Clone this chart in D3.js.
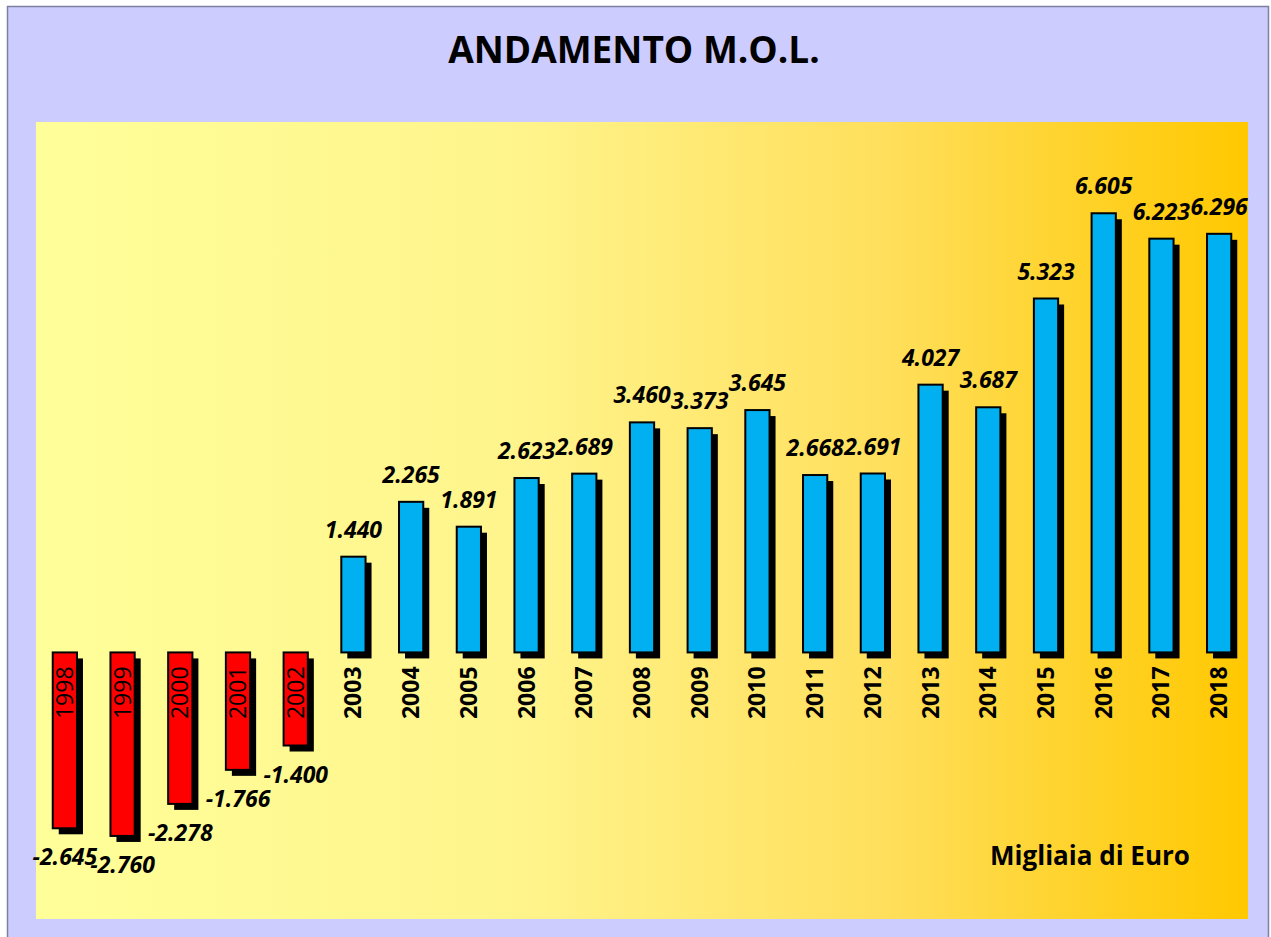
<!DOCTYPE html>
<html>
<head>
<meta charset="utf-8">
<script src="https://cdn.jsdelivr.net/npm/d3@7"></script>
<style>
  body { margin: 0; background: #fff; }
  text { font-family: "Open Sans", "Noto Sans", sans-serif; }
</style>
</head>
<body>
<div id="chart"></div>
<script>
const years = ['1998','1999','2000','2001','2002','2003','2004','2005','2006','2007','2008',
               '2009','2010','2011','2012','2013','2014','2015','2016','2017','2018'];
const values = [-2.645,-2.760,-2.278,-1.766,-1.400,1.440,2.265,1.891,2.623,2.689,3.460,
                3.373,3.645,2.668,2.691,4.027,3.687,5.323,6.605,6.223,6.296];
const labels = ['-2.645','-2.760','-2.278','-1.766','-1.400','1.440','2.265','1.891','2.623','2.689','3.460',
                '3.373','3.645','2.668','2.691','4.027','3.687','5.323','6.605','6.223','6.296'];

const W = 1271, H = 937;
const plot = { left: 36, top: 122, right: 1248, bottom: 919 };

const svg = d3.select('#chart').append('svg')
    .attr('width', W)
    .attr('height', H);

const grad = svg.append('defs').append('linearGradient')
    .attr('id', 'bg').attr('x1', 0).attr('x2', 1).attr('y1', 0).attr('y2', 0);
grad.append('stop').attr('offset', '0%').attr('stop-color', '#ffff99');
grad.append('stop').attr('offset', '40%').attr('stop-color', '#fff48c');
grad.append('stop').attr('offset', '70%').attr('stop-color', '#ffdf5c');
grad.append('stop').attr('offset', '100%').attr('stop-color', '#ffc800');

// outer panel
svg.append('rect')
    .attr('x', 7.5).attr('y', 6.5)
    .attr('width', 1261).attr('height', 940)
    .attr('fill', '#ccccff')
    .attr('stroke', '#7f7f9f')
    .attr('stroke-width', 1.5);

svg.append('rect')
    .attr('x', plot.left).attr('y', plot.top)
    .attr('width', plot.right - plot.left).attr('height', plot.bottom - plot.top)
    .attr('fill', 'url(#bg)');

svg.append('text')
    .attr('x', 634).attr('y', 63)
    .attr('text-anchor', 'middle')
    .attr('font-size', 37)
    .attr('font-weight', 'bold')
    .text('ANDAMENTO M.O.L.');

var x = d3.scaleBand()
    .domain(years)
    .range([plot.left, plot.right])
    .paddingInner(0.58)
    .paddingOuter(0.29);

var y = d3.scaleLinear()
    .domain([-2.4, 7.0])
    .range([812, 187]);

const data = years.map((d, i) => ({ year: d, value: values[i], label: labels[i] }));
const g = svg.append('g');

// shadows
g.selectAll('.shadow').data(data).enter().append('rect')
    .attr('x', d => x(d.year) + 6)
    .attr('y', d => Math.min(y(d.value), y(0)) + 6)
    .attr('width', x.bandwidth())
    .attr('height', d => Math.abs(y(d.value) - y(0)))
    .attr('fill', '#000');

g.selectAll('.bar').data(data).enter().append('rect')
    .attr('x', d => x(d.year))
    .attr('y', d => Math.min(y(d.value), y(0)))
    .attr('width', x.bandwidth())
    .attr('height', d => Math.abs(y(d.value) - y(0)))
    .attr('fill', d => d.value < 0 ? '#ff0000' : '#00b0f0')
    .attr('stroke', '#000')
    .attr('stroke-width', 2);

// year labels
g.selectAll('.year').data(data).enter().append('text')
    .attr('transform', d => `translate(${x(d.year) + x.bandwidth() / 2 + 8},${y(0) + 14}) rotate(-90)`)
    .attr('text-anchor', 'end')
    .attr('font-size', 23)
    .attr('font-weight', d => d.value < 0 ? 'normal' : 'bold')
    .text(d => d.year);

// value labels
g.selectAll('.val').data(data).enter().append('text')
    .attr('x', d => x(d.year) + x.bandwidth() / 2)
    .attr('y', d => d.value < 0 ? y(d.value) + 37 : y(d.value) - 19)
    .attr('text-anchor', 'middle')
    .attr('font-size', 23)
    .attr('font-weight', 'bold')
    .attr('font-style', 'italic')
    .text(d => d.label);

svg.append('text')
    .attr('x', 1090).attr('y', 865)
    .attr('text-anchor', 'middle')
    .attr('font-size', 26)
    .attr('font-weight', 'bold')
    .text('Migliaia di Euro');
</script>
</body>
</html>
